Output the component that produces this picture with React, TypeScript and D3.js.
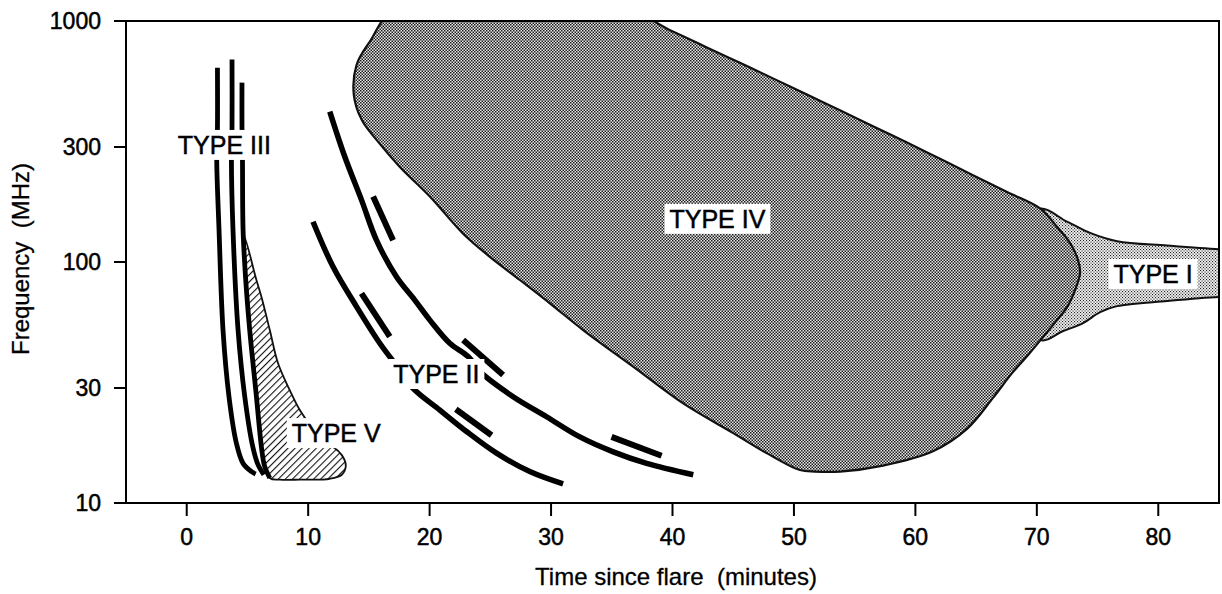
import * as d3 from 'd3';

const WIDTH = 1222;
const HEIGHT = 594;
const PLOT = { left: 126, right: 1219, top: 21, bottom: 503 };
const FONT = '"Liberation Sans", Arial, Helvetica, sans-serif';

// [minutes since flare, MHz]
type Pt = [number, number];

const xTicks = [0, 10, 20, 30, 40, 50, 60, 70, 80];
const yTicks = [10, 30, 100, 300, 1000];

// Type III: three fast-drift bursts
const typeIIILeft: Pt[] = [
  [2.53, 640], [2.53, 361], [2.47, 267], [2.66, 136], [2.99, 52], [3.48, 27.6],
  [4.09, 17.7], [4.64, 14.6], [5.33, 13.5], [5.68, 13.2],
];
const typeIIIMid: Pt[] = [
  [3.73, 693], [3.73, 361], [3.68, 267], [3.81, 136], [4.23, 52], [4.78, 27.6],
  [5.44, 17.1], [5.85, 14.5], [6.35, 13.1],
];
const typeIIIRight: Pt[] = [
  [4.55, 555], [4.55, 361], [4.59, 267], [4.64, 136], [4.86, 84], [5.19, 52],
  [5.74, 27.6], [6.15, 17.1], [6.4, 14.3], [6.84, 12.7],
];

// Type II: harmonic and fundamental lanes, plus split-band dashes
const typeIIHarmonic: Pt[] = [
  [11.78, 421], [13.01, 274], [14.39, 181], [15.63, 123], [17.27, 86.9], [18.78, 69.5],
  [20.02, 57.4], [21.66, 46.0], [23.17, 40.5], [24.14, 35.1], [26.88, 27.6], [29.63, 22.8],
  [32.37, 18.8], [35.12, 16.3], [37.87, 14.6], [41.71, 13.1],
];
const typeIIFundamental: Pt[] = [
  [10.4, 147], [12.05, 95.5], [13.98, 65.3], [15.9, 46.0], [17.55, 35.6], [18.64, 29.9],
  [20.84, 24.3], [23.04, 19.8], [25.51, 16.1], [28.25, 13.5], [30.99, 12.0],
];
const typeIIDashes: Pt[][] = [
  [[15.35, 187], [16.99, 123]],
  [[14.39, 74.1], [16.72, 49.0]],
  [[22.76, 47.5], [26.05, 34.0]],
  [[22.16, 24.5], [25.1, 19.1]],
  [[34.98, 18.8], [39.1, 15.7]],
];

// Type IV continuum (the two 1150 MHz points sit just above the frame and get clipped)
const typeIVOutline: Pt[] = [
  [17.43, 1150], [35.5, 1150], [40.03, 904], [42.83, 777], [45.55, 671], [48.27, 578],
  [51.07, 495], [53.79, 426], [56.51, 366], [59.31, 313], [62.03, 268], [64.74, 229],
  [67.55, 195], [70.26, 167], [71.66, 140],
  [72.73, 120], [73.39, 102], [73.56, 90], [73.15, 76.5], [72.49, 65.0], [71.66, 57.4],
  [70.51, 48.8], [69.28, 41.1], [67.96, 34.6], [66.39, 27.3], [64.25, 20.3], [61.45, 16.4],
  [57.33, 14.3], [53.79, 13.5], [51.73, 13.5], [50.49, 13.7], [47.75, 16.1], [45.0, 19.5],
  [40.88, 25.9], [36.76, 36.8], [32.64, 52.2], [29.9, 67.4], [27.43, 84.2], [24.96, 105],
  [22.76, 131], [20.02, 187], [17.55, 248], [15.63, 321], [14.42, 388], [13.76, 493],
  [13.98, 657], [15.07, 820],
];

// Type I noise storm (tail runs off the right edge)
const typeIOutline: Pt[] = [
  [70.1, 166], [72.49, 147], [74.38, 132], [76.61, 122], [80.73, 117], [85, 113], [88, 112],
  [88, 72], [85, 71.6], [80.73, 68.9], [76.61, 65.6], [75.21, 62.0], [73.81, 55.8],
  [72.16, 51.7], [70.26, 47.5], [67, 88],
];

// Type V hatched region
const typeVOutline: Pt[] = [
  [4.7, 129], [5.74, 84.2], [6.15, 71.8], [6.84, 52.2], [7.52, 38.0], [8.48, 29.4],
  [9.31, 24.3], [10.13, 21.1], [10.79, 18.3], [12.03, 17.1], [12.77, 15.8], [13.1, 14.3],
  [12.77, 13.1], [11.78, 12.6], [9.31, 12.5], [7.66, 12.5], [6.84, 12.7], [6.15, 17.1],
  [5.74, 27.6], [5.19, 52], [4.86, 84],
];

const labels: { text: string; t: number; f: number }[] = [
  { text: 'TYPE III', t: 3.1, f: 306 },
  { text: 'TYPE IV', t: 43.7, f: 151 },
  { text: 'TYPE I', t: 79.57, f: 89.2 },
  { text: 'TYPE II', t: 20.55, f: 34.3 },
  { text: 'TYPE V', t: 12.31, f: 19.5 },
];

const x = d3.scaleLinear().domain([-5, 85]).range([PLOT.left, PLOT.right]);
const y = d3.scaleLog().domain([10, 1000]).range([PLOT.bottom, PLOT.top]);

const smooth = d3
  .line<Pt>()
  .x((d) => x(d[0]))
  .y((d) => y(d[1]))
  .curve(d3.curveCatmullRom.alpha(0.5));
const closed = d3
  .line<Pt>()
  .x((d) => x(d[0]))
  .y((d) => y(d[1]))
  .curve(d3.curveCatmullRomClosed.alpha(0.5));
const straight = d3
  .line<Pt>()
  .x((d) => x(d[0]))
  .y((d) => y(d[1]));

let ctx: CanvasRenderingContext2D | null = null;
function textWidth(s: string, size: number) {
  if (!ctx) ctx = document.createElement('canvas').getContext('2d');
  if (!ctx) return s.length * size * 0.6;
  ctx.font = `${size}px ${FONT}`;
  return ctx.measureText(s).width;
}

const LABEL_SIZE = 25;
// scanned print looks a bit heavier than plain Arial
const INK = { fill: '#000', stroke: '#000', strokeWidth: 0.5 };

export default function App() {
  return (
    <svg
      width={WIDTH}
      height={HEIGHT}
      style={{ position: 'absolute', left: 0, top: 0, background: '#fff' }}
      fontFamily={FONT}
    >
      <defs>
        <clipPath id="plot">
          <rect x={PLOT.left} y={PLOT.top} width={PLOT.right - PLOT.left} height={PLOT.bottom - PLOT.top} />
        </clipPath>
        <pattern id="dark" width="3" height="3" patternUnits="userSpaceOnUse">
          <rect width="3" height="3" fill="#e8e8e8" />
          <rect x="0" y="0" width="1.5" height="1.5" fill="#1c1c1c" />
          <rect x="1.5" y="1.5" width="1.5" height="1.5" fill="#1c1c1c" />
        </pattern>
        <pattern id="light" width="3" height="3" patternUnits="userSpaceOnUse">
          <rect width="3" height="3" fill="#f2f2f2" />
          <rect x="0" y="0" width="1.1" height="1.1" fill="#222" />
          <rect x="1.5" y="1.5" width="1.1" height="1.1" fill="#222" />
        </pattern>
        <pattern id="hatch" width="5" height="5" patternUnits="userSpaceOnUse" patternTransform="rotate(45)">
          <rect width="5" height="5" fill="#fff" />
          <line x1="0" y1="0" x2="0" y2="5" stroke="#111" strokeWidth="2.2" />
        </pattern>
      </defs>

      <g clipPath="url(#plot)">
        <path d={closed(typeIOutline) ?? ''} fill="url(#light)" stroke="#111" strokeWidth={2} />
        <path d={closed(typeIVOutline) ?? ''} fill="url(#dark)" stroke="#111" strokeWidth={2.2} />
        <path d={closed(typeVOutline) ?? ''} fill="url(#hatch)" stroke="#111" strokeWidth={1.8} />

        {[typeIIILeft, typeIIIMid, typeIIIRight].map((pts, i) => (
          <path key={`iii${i}`} d={smooth(pts) ?? ''} fill="none" stroke="#000" strokeWidth={4.8} />
        ))}

        {[typeIIHarmonic, typeIIFundamental].map((pts, i) => (
          <path key={`ii${i}`} d={smooth(pts) ?? ''} fill="none" stroke="#000" strokeWidth={5.5} />
        ))}
        {typeIIDashes.map((pts, i) => (
          <path key={`d${i}`} d={straight(pts) ?? ''} fill="none" stroke="#000" strokeWidth={6} />
        ))}

        {labels.map((l) => {
          const cx = x(l.t);
          const cy = y(l.f);
          const w = textWidth(l.text, LABEL_SIZE);
          return (
            <g key={l.text}>
              <rect x={cx - w / 2 - 5} y={cy - 15} width={w + 10} height={30} fill="#fff" />
              <text x={cx} y={cy + 9} textAnchor="middle" fontSize={LABEL_SIZE} {...INK}>
                {l.text}
              </text>
            </g>
          );
        })}
      </g>

      {/* frame */}
      <rect
        x={PLOT.left}
        y={PLOT.top}
        width={PLOT.right - PLOT.left}
        height={PLOT.bottom - PLOT.top}
        fill="none"
        stroke="#000"
        strokeWidth={2}
      />

      {/* y axis */}
      {yTicks.map((v) => (
        <g key={`y${v}`}>
          <line x1={PLOT.left - 12} x2={PLOT.left} y1={y(v)} y2={y(v)} stroke="#000" strokeWidth={2} />
          <text x={101} y={y(v) + 8} textAnchor="end" fontSize={23} {...INK}>
            {v}
          </text>
        </g>
      ))}
      <text
        transform={`translate(29, 259) rotate(-90)`}
        textAnchor="middle"
        fontSize={24}
        {...INK}
        strokeWidth={0.3}
        style={{ whiteSpace: 'pre' }}
      >
        {'Frequency  (MHz)'}
      </text>

      {/* x axis */}
      {xTicks.map((v) => (
        <g key={`x${v}`}>
          <line x1={x(v)} x2={x(v)} y1={PLOT.bottom} y2={PLOT.bottom + 13} stroke="#000" strokeWidth={2} />
          <text x={x(v)} y={545} textAnchor="middle" fontSize={23} {...INK}>
            {v}
          </text>
        </g>
      ))}
      <text x={676} y={585} textAnchor="middle" fontSize={24} {...INK} strokeWidth={0.3} style={{ whiteSpace: 'pre' }}>
        {'Time since flare  (minutes)'}
      </text>
    </svg>
  );
}
